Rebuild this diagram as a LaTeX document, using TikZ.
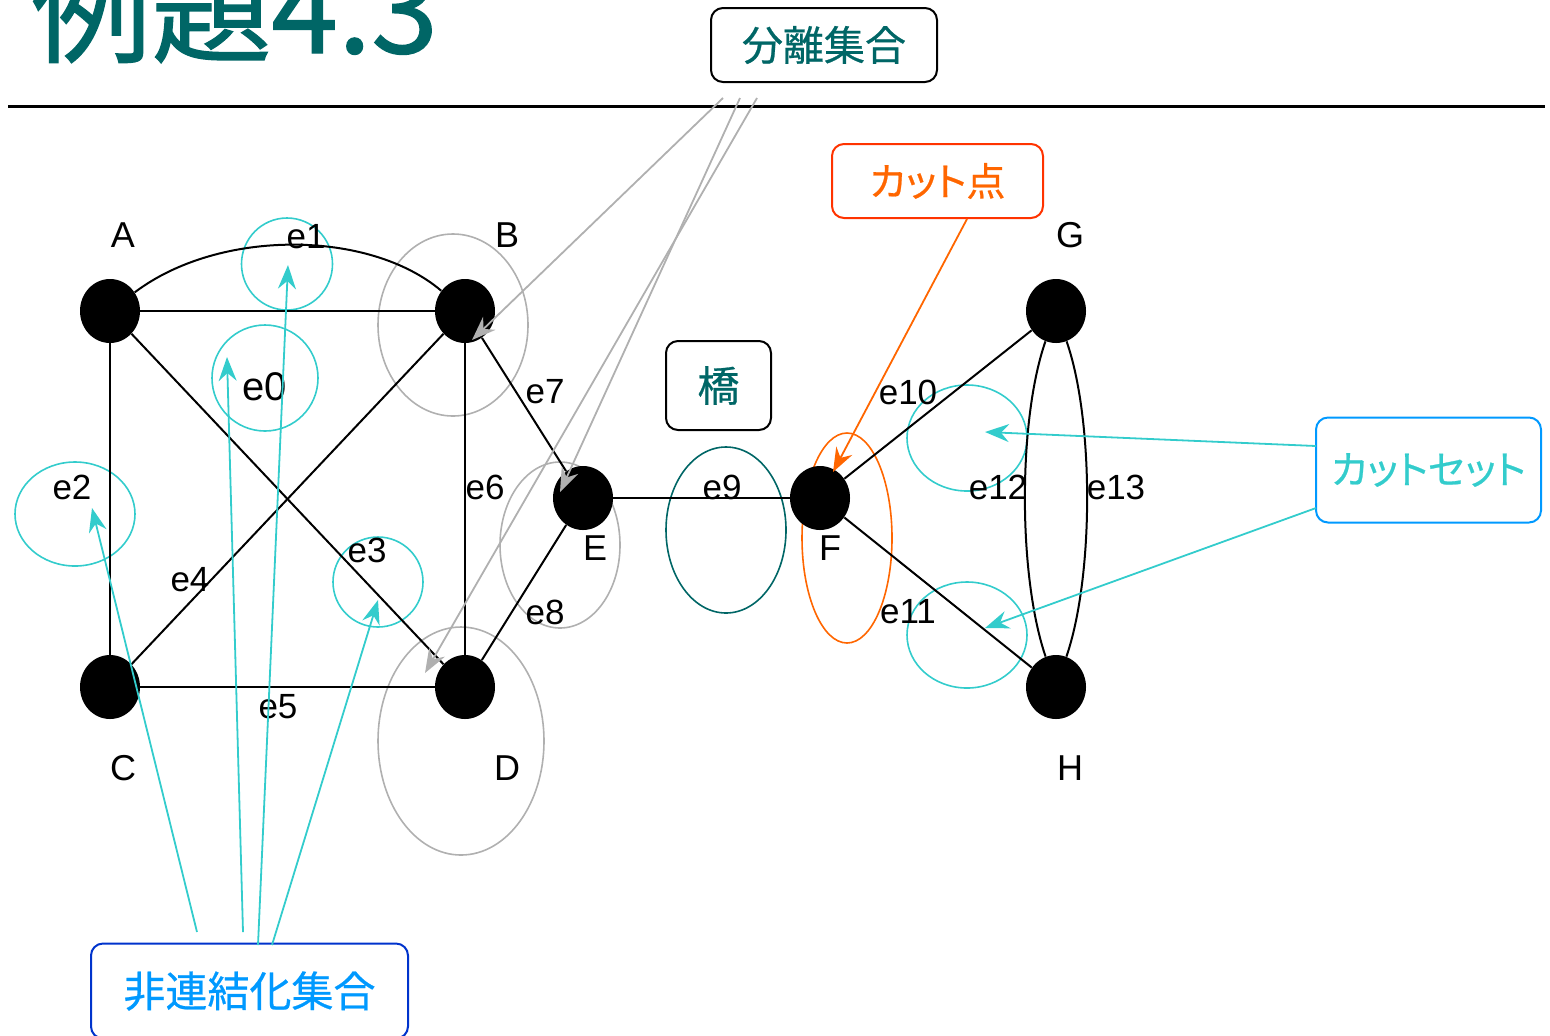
\documentclass[tikz,border=0pt]{standalone}
\usepackage{fontspec}
\setmainfont{Liberation Sans}
\newfontfamily\cjk[FakeBold=0.6]{Noto Sans CJK JP}
\newfontfamily\cjkp[FakeBold=0.6,RawFeature=+palt]{Noto Sans CJK JP}
\newfontfamily\cjktitle[FakeBold=1.1]{Noto Sans CJK JP}
\usetikzlibrary{arrows.meta,shapes.geometric}
\definecolor{tealc}{HTML}{006666}
\definecolor{cyanc}{HTML}{33CCCC}
\definecolor{grayc}{HTML}{B0B0B0}
\definecolor{orangec}{HTML}{FF6600}
\definecolor{redorange}{HTML}{FF3300}
\definecolor{lblue}{HTML}{0099FF}
\definecolor{dblue}{HTML}{0033CC}
\tikzset{
  vertex/.style={ellipse, fill=black, inner sep=0pt, minimum width=30pt, minimum height=32pt},
  vlab/.style={font=\fontsize{18}{20}\selectfont, inner sep=0pt},
  elab/.style={font=\fontsize{17.5}{20}\selectfont, inner sep=0pt},
  edge/.style={line width=1pt, black},
  ring/.style={ellipse, draw, line width=0.8pt, inner sep=0pt},
  box/.style={draw, rounded corners=6pt, line width=1pt, inner sep=0pt, font=\cjk},
  tip/.style={-{Stealth[length=12pt,width=9pt,inset=4pt]}},
}
\begin{document}
\begin{tikzpicture}[x=0.5pt,y=-0.5pt]
\useasboundingbox (0,0) rectangle (1550,1035);
% title
\node[anchor=base west, inner sep=0pt, text=tealc, font=\cjktitle\fontsize{60}{68}\selectfont] (title) at (31,53) {例題4.3};
\coordinate (hl) at (8,106);
\coordinate (hr) at (1545,106);
\draw[line width=1.5pt] (hl) -- (hr);

% rings
\node[ring, cyanc, minimum width=45.5pt, minimum height=46pt] (r1) at (287,264) {};
\node[ring, cyanc, minimum width=53pt, minimum height=53pt] (r0) at (265,378) {};
\node[ring, cyanc, minimum width=60pt, minimum height=52pt] (r2) at (75,514) {};
\node[ring, cyanc, minimum width=45pt, minimum height=45pt] (r3) at (378,582) {};
\node[ring, cyanc, minimum width=60pt, minimum height=53pt] (r12) at (967,438) {};
\node[ring, cyanc, minimum width=60pt, minimum height=53pt] (r11) at (967,635) {};
\node[ring, grayc, minimum width=75pt, minimum height=91pt] (gB) at (453,325) {};
\node[ring, grayc, minimum width=60pt, minimum height=83pt] (gE) at (560,545) {};
\node[ring, grayc, minimum width=83pt, minimum height=114pt] (gD) at (461,741) {};
\node[ring, tealc, minimum width=60pt, minimum height=83pt] (t9) at (726,530) {};
\node[ring, orangec, minimum width=45pt, minimum height=105pt] (oF) at (847,538) {};

% vertices
\node[vertex] (A) at (110,311) {};
\node[vertex] (B) at (465,311) {};
\node[vertex] (C) at (110,687) {};
\node[vertex] (D) at (465,687) {};
\node[vertex] (E) at (583,498) {};
\node[vertex] (F) at (820,498) {};
\node[vertex] (G) at (1056,311) {};
\node[vertex] (H) at (1056,687) {};

% edges
\draw[edge] (A) -- (B);
\draw[edge] (A) .. controls (220,228) and (370,230) .. (B);
\draw[edge] (A) -- (C);
\draw[edge] (A) -- (D);
\draw[edge] (B) -- (C);
\draw[edge] (B) -- (D);
\draw[edge] (C) -- (D);
\draw[edge] (B) -- (E);
\draw[edge] (D) -- (E);
\draw[edge] (E) -- (F);
\draw[edge] (F) -- (G);
\draw[edge] (F) -- (H);
\draw[edge] (G) .. controls (1018,420) and (1018,576) .. (H);
\draw[edge] (G) .. controls (1094,420) and (1094,576) .. (H);

% vertex labels
\node[vlab] (lA) at (123,235) {A};
\node[vlab] (lB) at (507,235) {B};
\node[vlab] (lC) at (123,768) {C};
\node[vlab] (lD) at (507,768) {D};
\node[vlab] (lE) at (595,548) {E};
\node[vlab] (lF) at (830,548) {F};
\node[vlab] (lG) at (1070,235) {G};
\node[vlab] (lH) at (1070,768) {H};

% edge labels
\node[elab, font=\fontsize{20}{22}\selectfont] (e0) at (265,387) {e0};
\node[elab] (e1) at (306,237) {e1};
\node[elab] (e2) at (72,487) {e2};
\node[elab] (e3) at (367,550) {e3};
\node[elab] (e4) at (190,580) {e4};
\node[elab] (e5) at (278,707) {e5};
\node[elab] (e6) at (485,487) {e6};
\node[elab] (e7) at (545,392) {e7};
\node[elab] (e8) at (545,612) {e8};
\node[elab] (e9) at (722,487) {e9};
\node[elab] (e10) at (908,392) {e10};
\node[elab] (e11) at (908,612) {e11};
\node[elab] (e12) at (998,487) {e12};
\node[elab] (e13) at (1116,487) {e13};

% boxes
\node[box, minimum width=113pt, minimum height=37pt, text=tealc, font=\cjk\fontsize{20.5}{24}\selectfont] (sep) at (824,45) {分離集合};
\node[box, draw=redorange, minimum width=105.5pt, minimum height=37pt, text=orangec, font=\cjkp\fontsize{19.5}{22}\selectfont] (cutv) at (937.5,181) {カット点};
\node[box, minimum width=52.5pt, minimum height=44.5pt, text=tealc, font=\cjk\fontsize{21}{24}\selectfont] (bridge) at (718.5,385.5) {橋};
\node[box, draw=lblue, minimum width=112.5pt, minimum height=52.5pt, text=cyanc, font=\cjkp\fontsize{19.5}{22}\selectfont] (cutset) at (1428.5,470) {カットセット};
\node[box, draw=dblue, minimum width=158.5pt, minimum height=47.5pt, text=lblue, font=\cjk\fontsize{21}{24}\selectfont] (dis) at (249.5,991) {非連結化集合};

% arrow coordinates
\coordinate (g1s) at (723,98);  \coordinate (g1e) at (472,340);
\coordinate (g2s) at (740,98);  \coordinate (g2e) at (560,492);
\coordinate (g3s) at (757,98);  \coordinate (g3e) at (425,673);
\coordinate (os) at (967,219);  \coordinate (oe) at (833,472);
\coordinate (c1s) at (1316,446); \coordinate (c1e) at (985,432);
\coordinate (c2s) at (1316,508); \coordinate (c2e) at (985,628);
\coordinate (d1s) at (197,932); \coordinate (d1e) at (92,508);
\coordinate (d2s) at (243,932); \coordinate (d2e) at (227,357);
\coordinate (d3s) at (258,945); \coordinate (d3e) at (288,265);
\coordinate (d4s) at (272,945); \coordinate (d4e) at (378,600);

\draw[tip, grayc, line width=0.9pt] (g1s) -- (g1e);
\draw[tip, grayc, line width=0.9pt] (g2s) -- (g2e);
\draw[tip, grayc, line width=0.9pt] (g3s) -- (g3e);
\draw[tip, orangec, line width=0.9pt] (os) -- (oe);
\draw[tip, cyanc, line width=0.9pt] (c1s) -- (c1e);
\draw[tip, cyanc, line width=0.9pt] (c2s) -- (c2e);
\draw[tip, cyanc, line width=0.9pt] (d1s) -- (d1e);
\draw[tip, cyanc, line width=0.9pt] (d2s) -- (d2e);
\draw[tip, cyanc, line width=0.9pt] (d3s) -- (d3e);
\draw[tip, cyanc, line width=0.9pt] (d4s) -- (d4e);
\end{tikzpicture}
\end{document}
